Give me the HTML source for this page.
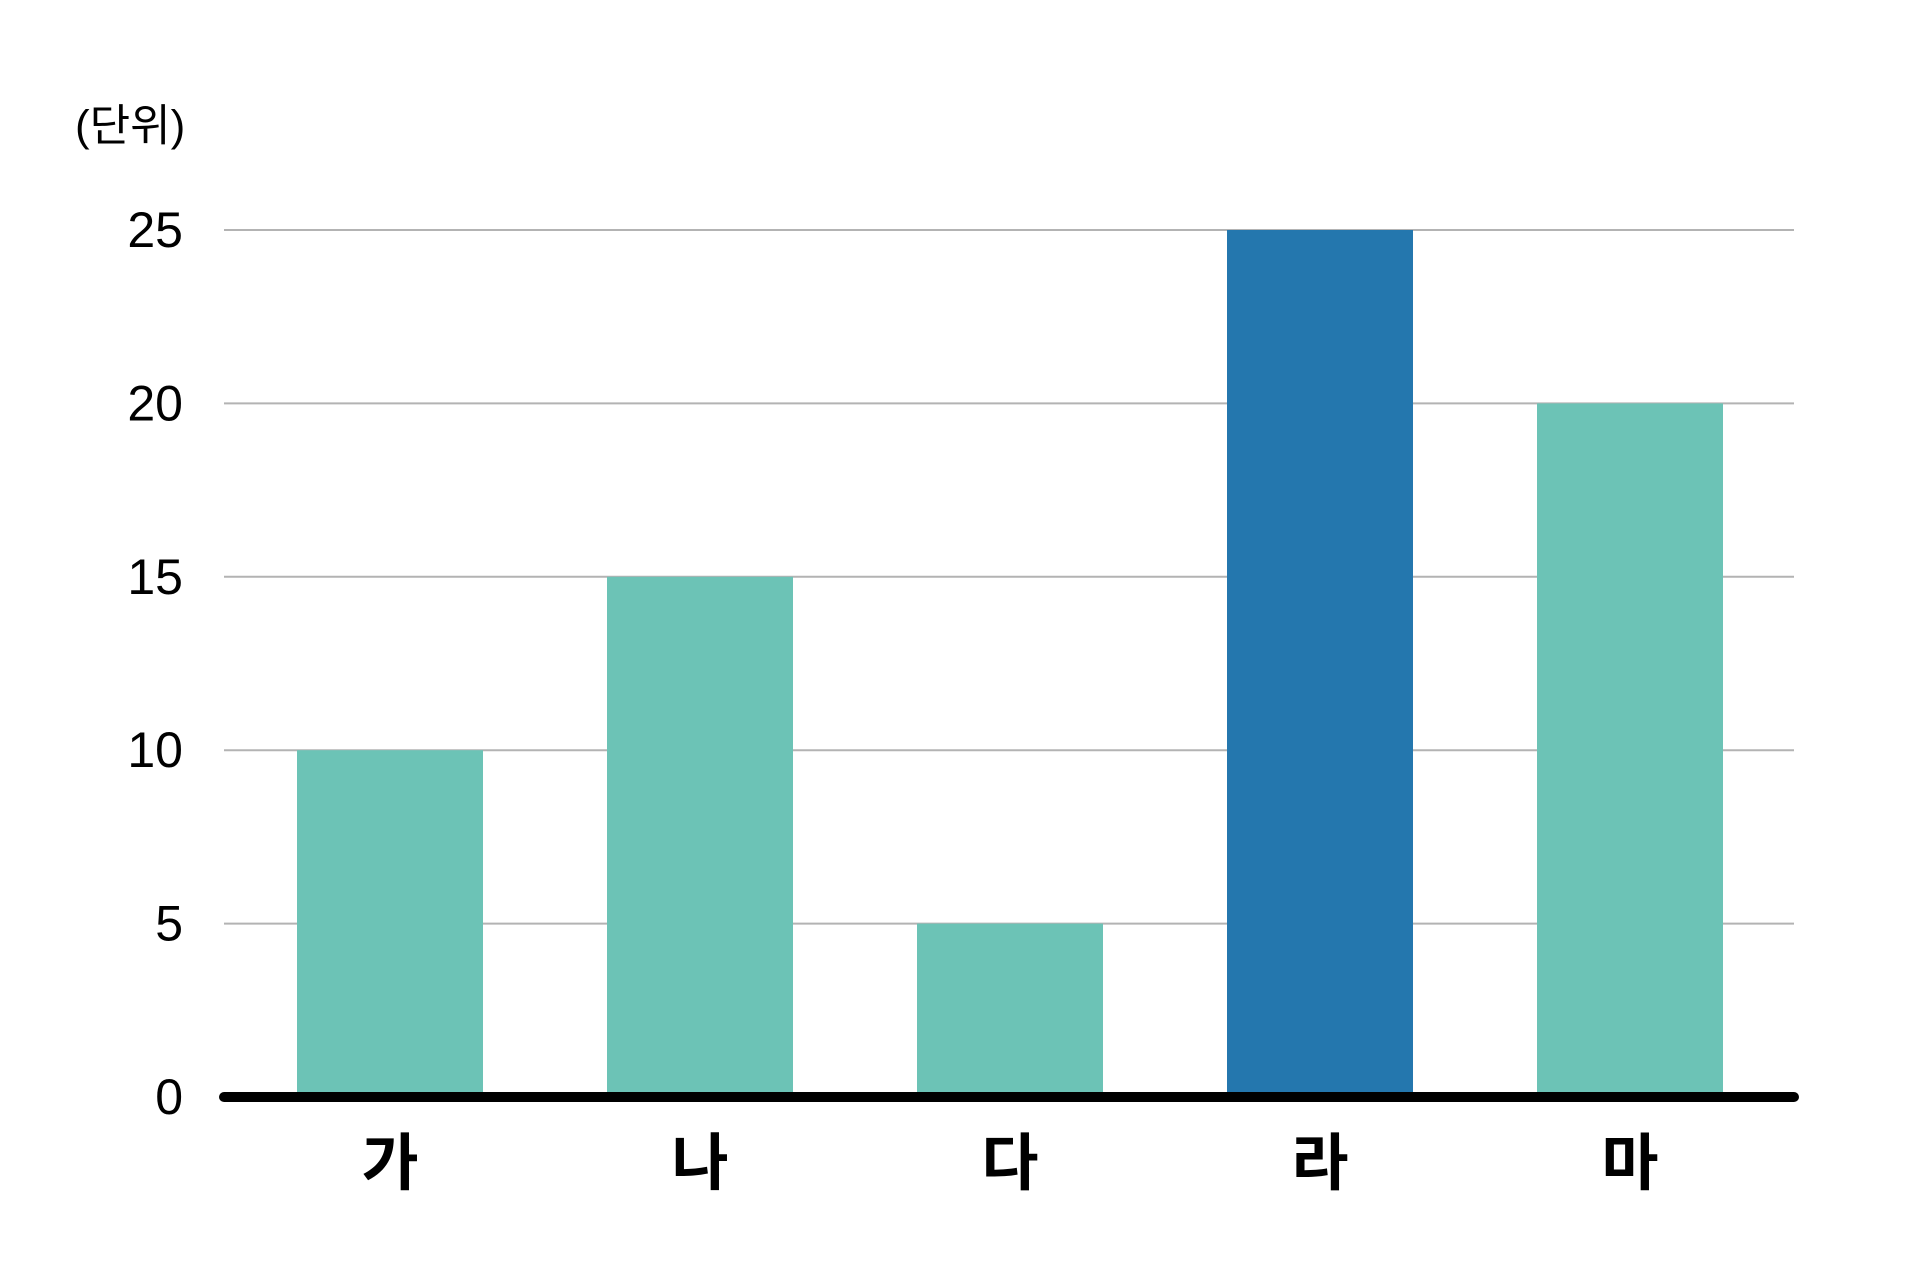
<!DOCTYPE html>
<html><head><meta charset="utf-8"><style>
html,body{margin:0;padding:0;background:#fff;}
svg text{font-family:"Liberation Sans","Noto Sans CJK KR",sans-serif;}
</style></head><body>
<svg id="chart" width="1920" height="1280" viewBox="0 0 1920 1280" xmlns="http://www.w3.org/2000/svg">
<text x="75" y="126" font-size="44" dominant-baseline="central" fill="#000">(단위)</text>
<g id="grid"></g><g id="bars"></g><g id="labels"></g>
</svg>
<script>
const categories = ["가","나","다","라","마"];
const values = [10,15,5,25,20];
const highlight = [false,false,false,true,false];
const yTicks = [0,5,10,15,20,25];
const svgNS="http://www.w3.org/2000/svg";
const x0=224,x1=1794,y0=1097,yTop=230,yMax=25;
const y=v=>y0-(v/yMax)*(y0-yTop);
const slot=310,barW=186,firstLeft=297;
const xLeft=i=>firstLeft+i*slot;
const grid=document.getElementById('grid'),bars=document.getElementById('bars'),labels=document.getElementById('labels');
yTicks.forEach(t=>{
  if(t>0){const l=document.createElementNS(svgNS,'line');
  
  
  l.setAttribute('x1',x0);l.setAttribute('x2',x1);l.setAttribute('y1',y(t));l.setAttribute('y2',y(t));
  l.setAttribute('stroke','#b3b3b3');l.setAttribute('stroke-width','2');grid.appendChild(l);}
  const tx=document.createElementNS(svgNS,'text');
  
  
  tx.setAttribute('x',183);tx.setAttribute('y',y(t));tx.setAttribute('text-anchor','end');
  tx.setAttribute('dominant-baseline','central');tx.setAttribute('font-size','50');
  tx.textContent=t;grid.appendChild(tx);
});
categories.forEach((c,i)=>{
  const r=document.createElementNS(svgNS,'rect');
  
  
  r.setAttribute('x',xLeft(i));r.setAttribute('width',barW);
  r.setAttribute('y',y(values[i]));r.setAttribute('height',y0-y(values[i]));
  r.setAttribute('fill',highlight[i]?'#2477ae':'#6cc3b6');bars.appendChild(r);
  const t=document.createElementNS(svgNS,'text');
  
  
  t.setAttribute('x',xLeft(i)+barW/2);t.setAttribute('y',1164);
  t.setAttribute('text-anchor','middle');t.setAttribute('dominant-baseline','central');
  t.setAttribute('font-size','62');t.setAttribute('font-weight','bold');
  t.textContent=c;labels.appendChild(t);
});
const ax=document.createElementNS(svgNS,'line');


ax.setAttribute('x1',x0);ax.setAttribute('x2',x1);ax.setAttribute('y1',y0);ax.setAttribute('y2',y0);
ax.setAttribute('stroke','#000');ax.setAttribute('stroke-width','10');ax.setAttribute('stroke-linecap','round');
labels.appendChild(ax);
</script>
</body></html>
